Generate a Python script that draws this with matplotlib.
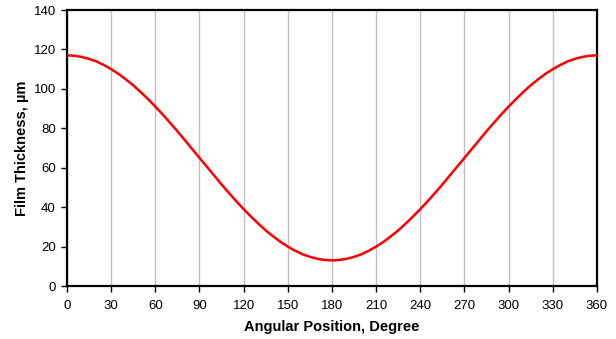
import matplotlib
matplotlib.use("Agg")
import matplotlib.pyplot as plt

plt.rcParams['font.family'] = ['Liberation Sans', 'DejaVu Sans']

# film thickness around the bearing, read every 5 degrees
angle_deg = list(range(0, 361, 5))
thickness_um = [117.0, 116.8, 116.2, 115.2, 113.9, 112.1, 110.0, 107.6, 104.8, 101.8, 98.4, 94.8,
                91.0, 87.0, 82.8, 78.5, 74.0, 69.5, 65.0, 60.5, 56.0, 51.5, 47.2, 43.0, 39.0,
                35.2, 31.6, 28.2, 25.2, 22.4, 20.0, 17.9, 16.1, 14.8, 13.8, 13.2, 13.0,
                13.2, 13.8, 14.8, 16.1, 17.9, 20.0, 22.4, 25.2, 28.2, 31.6, 35.2, 39.0,
                43.0, 47.2, 51.5, 56.0, 60.5, 65.0, 69.5, 74.0, 78.5, 82.8, 87.0, 91.0,
                94.8, 98.4, 101.8, 104.8, 107.6, 110.0, 112.1, 113.9, 115.2, 116.2, 116.8, 117.0]

x_ticks = list(range(0, 361, 30))
y_ticks = list(range(0, 141, 20))

fig = plt.figure(figsize=(6.16, 3.39), dpi=100)
ax = fig.add_axes([0.1088, 0.1563, 0.8602, 0.8142])

ax.plot(angle_deg, thickness_um, color='#ff0000', linewidth=1.8, zorder=3)

ax.set_xlim(0, 360)
ax.set_ylim(0, 140)
ax.set_xticks(x_ticks)
ax.set_yticks(y_ticks)
ax.xaxis.grid(True, color='#c0c0c0', linewidth=1.0)
ax.set_axisbelow(True)

for side in ax.spines.values():
    side.set_linewidth(1.6)
    side.set_color('black')

ax.tick_params(direction='out', length=4, width=1, labelsize=9.5)
ax.tick_params(axis='x', pad=6)
ax.tick_params(axis='y', pad=4)
ax.set_xlabel('Angular Position, Degree', fontsize=10.5, fontweight='bold', labelpad=6)
ax.set_ylabel('Film Thickness, µm', fontsize=10.5, fontweight='bold', labelpad=3)

fig.savefig('out.png', dpi=100)
